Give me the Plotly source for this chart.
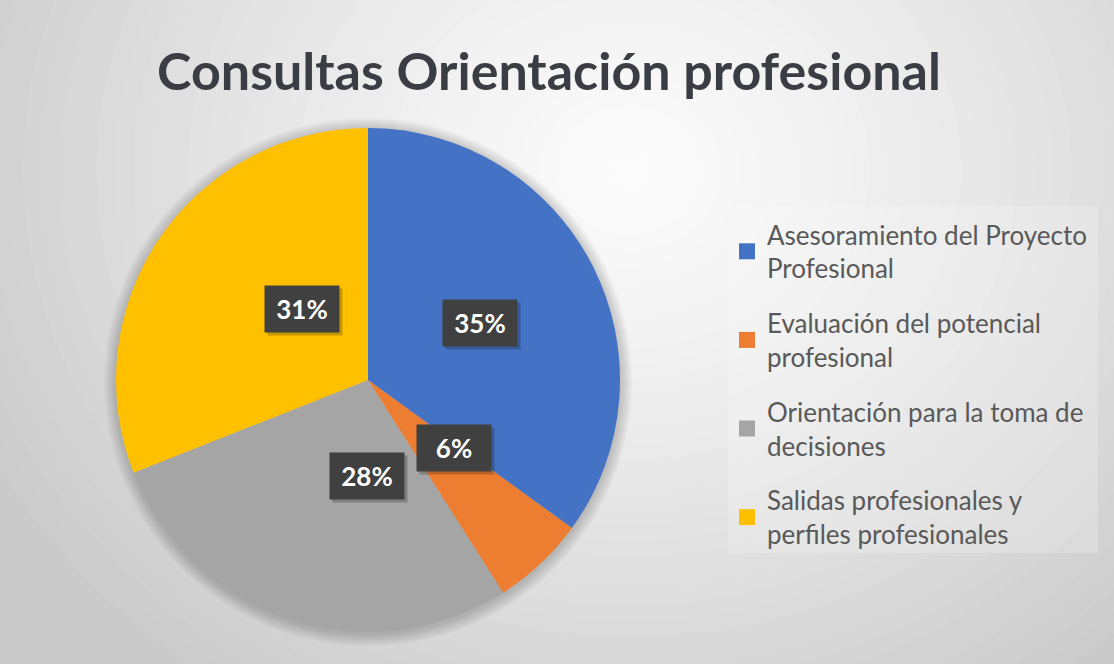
import math
import plotly.graph_objects as go

# ---------------- data ----------------
categories = [
    "Asesoramiento del Proyecto Profesional",
    "Evaluación del potencial profesional",
    "Orientación para la toma de decisiones",
    "Salidas profesionales y perfiles profesionales",
]
legend_labels = [
    "Asesoramiento del Proyecto<br>Profesional",
    "Evaluación del potencial<br>profesional",
    "Orientación para la toma de<br>decisiones",
    "Salidas profesionales y<br>perfiles profesionales",
]
values = [35, 6, 28, 31]
colors = ["#4472C4", "#ED7D31", "#A5A5A5", "#FFC000"]
title_text = "Consultas Orientación profesional"

# ---------------- layout geometry ----------------
W, H = 1114, 664
CX, CY, R = 368, 380, 252  # pie centre / radius in pixels

dom_x = [(CX - R) / W, (CX + R) / W]
dom_y = [1 - (CY + R) / H, 1 - (CY - R) / H]

fig = go.Figure()

fig.add_trace(go.Pie(
    labels=categories,
    values=values,
    sort=False,
    direction="clockwise",
    rotation=0,
    marker=dict(colors=colors, line=dict(width=0)),
    textinfo="none",
    hoverinfo="label+percent",
    showlegend=False,
    domain=dict(x=dom_x, y=dom_y),
))

# legend entries (square markers), one group each so the gap can be set
for lab, col in zip(legend_labels, colors):
    fig.add_trace(go.Scatter(
        x=[None], y=[None], mode="markers",
        marker=dict(symbol="square", size=16, color=col),
        name=lab, legendgroup=lab, showlegend=True, hoverinfo="skip",
    ))

# ---------------- background radial gradient ----------------
shapes = []
GX, GY = 630, 170
RX, RY = 640, 560
N = 40
c_out, c_in = 202, 251
for i in range(N):
    f = 1 - i / N  # 1 -> 0
    rx, ry = RX * f * 1.15, RY * f * 1.15
    c = int(round(c_in + (c_out - c_in) * f ** 1.3))
    shapes.append(dict(
        type="circle", xref="paper", yref="paper", layer="below",
        x0=(GX - rx) / W, x1=(GX + rx) / W,
        y0=1 - (GY + ry) / H, y1=1 - (GY - ry) / H,
        fillcolor=f"rgb({c},{c},{c})", line=dict(width=0),
    ))

# soft shadow around the pie
for k in range(8, 0, -1):
    rr = R + k * 1.5
    shapes.append(dict(
        type="circle", xref="paper", yref="paper", layer="below",
        x0=(CX - rr) / W, x1=(CX + rr) / W,
        y0=1 - (CY + 2 + rr) / H, y1=1 - (CY + 2 - rr) / H,
        fillcolor="rgba(0,0,0,0.022)", line=dict(width=0),
    ))

# legend background box
shapes.append(dict(
    type="rect", xref="paper", yref="paper", layer="below",
    x0=728 / W, x1=1098 / W, y0=1 - 553 / H, y1=1 - 206 / H,
    fillcolor="rgba(255,255,255,0.2)", line=dict(width=0),
))

# ---------------- data labels (dark boxes) ----------------
annotations = []
total = sum(values)
cum = 0
for v in values:
    mid = (cum + v / 2) / total * 2 * math.pi
    cum += v
    px = CX + 0.5 * R * math.sin(mid)
    py = CY - 0.5 * R * math.cos(mid)
    txt = f"{round(v / total * 100)}%"
    common = dict(
        x=px / W, y=1 - py / H, xref="paper", yref="paper",
        showarrow=False, borderpad=6, width=62, height=34,
        font=dict(family="Lato", size=26, color="white", weight="bold"),
    )
    # drop shadow box (no text)
    annotations.append(dict(common, text="&nbsp;", bgcolor="rgba(0,0,0,0.22)",
                            xshift=3, yshift=-3))
    annotations.append(dict(common, text=txt, bgcolor="#404040"))

fig.update_layout(
    width=W, height=H,
    margin=dict(l=0, r=0, t=0, b=0),
    paper_bgcolor="rgb(202,202,202)",
    plot_bgcolor="rgba(0,0,0,0)",
    xaxis=dict(visible=False),
    yaxis=dict(visible=False),
    title=dict(
        text=title_text, x=549 / W, xanchor="center", y=1 - 72 / H, yanchor="middle",
        font=dict(family="Lato", size=52, color="#3a3d44", weight="bold"),
    ),
    legend=dict(
        x=727 / W, y=1 - 211 / H, xanchor="left", yanchor="top",
        font=dict(family="Lato", size=26, color="#595959"),
        bgcolor="rgba(0,0,0,0)", tracegroupgap=18, itemwidth=30,
    ),
    shapes=shapes,
    annotations=annotations,
    showlegend=True,
)

fig.write_html("out.html", config={"displayModeBar": False},
               post_script="document.body.style.margin='0px';")
